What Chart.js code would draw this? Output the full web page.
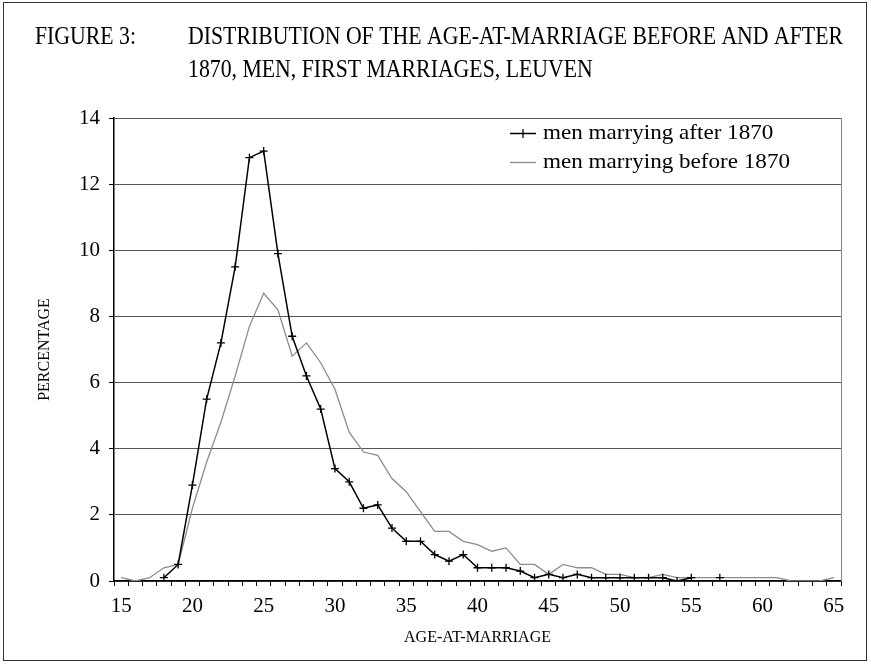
<!DOCTYPE html>
<html>
<head>
<meta charset="utf-8">
<script src="https://cdn.jsdelivr.net/npm/chart.js@4.4.0/dist/chart.umd.min.js"></script>
<style>
  body { margin: 0; background: #fff; }
  canvas { display: block; }
</style>
</head>
<body>
<canvas id="myChart" width="871" height="667"></canvas>
<script>
// data (percentages by age at first marriage)
const ages = ["15","16","17","18","19","20","21","22","23","24","25","26","27","28","29","30",
  "31","32","33","34","35","36","37","38","39","40","41","42","43","44","45","46","47","48",
  "49","50","51","52","53","54","55","56","57","58","59","60","61","62","63","64","65"];

const after1870 = [null, null, null, 0.1, 0.5, 2.9, 5.5, 7.2, 9.5, 12.8, 13.0, 9.9, 7.4, 6.2, 5.2, 3.4,
  3.0, 2.2, 2.3, 1.6, 1.2, 1.2, 0.8, 0.6, 0.8, 0.4, 0.4, 0.4, 0.3, 0.1, 0.2, 0.1, 0.2, 0.1,
  0.1, 0.1, 0.1, 0.1, 0.1, 0.0, 0.1, null, 0.1, null, null, null, null, null, null, null, null];

const before1870 = [0.1, 0.0, 0.1, 0.4, 0.5, 2.2, 3.6, 4.8, 6.2, 7.7, 8.7, 8.2, 6.8, 7.2, 6.6, 5.8,
  4.5, 3.9, 3.8, 3.1, 2.7, 2.1, 1.5, 1.5, 1.2, 1.1, 0.9, 1.0, 0.5, 0.5, 0.2, 0.5, 0.4, 0.4,
  0.2, 0.2, 0.1, 0.1, 0.2, 0.1, 0.1, 0.1, 0.1, 0.1, 0.1, 0.1, 0.1, 0.0, 0.0, 0.0, 0.1];

const xTickLabels = ["15", "20", "25", "30", "35", "40", "45", "50", "55", "60", "65"];
const yTicks = [0, 2, 4, 6, 8, 10, 12, 14];

const serif = "'Liberation Serif', 'Times New Roman', serif";
const titleLines = [
  "DISTRIBUTION OF THE AGE-AT-MARRIAGE BEFORE AND AFTER",
  "1870, MEN, FIRST MARRIAGES, LEUVEN",
];

// draws text squeezed/stretched horizontally by sx
const drawScaled = (c, text, x, y, sx) => {
  c.save();
  c.translate(x, y);
  c.scale(sx, 1);
  c.fillText(text, 0, 0);
  c.restore();
};

const extras = {
  id: "extras",
  beforeDraw(chart) {
    const c = chart.ctx;
    c.save();
    c.fillStyle = "#fff";
    c.fillRect(0, 0, chart.width, chart.height);
    c.strokeStyle = "#333";
    c.lineWidth = 1;
    c.strokeRect(3.5, 2.5, 863, 658);
    c.restore();
  },
  afterDraw(chart) {
    const c = chart.ctx;
    const area = chart.chartArea;
    c.save();

    // right edge of plot
    c.strokeStyle = "#888";
    c.lineWidth = 1;
    c.beginPath();
    c.moveTo(Math.round(area.right) + 0.5, area.top);
    c.lineTo(Math.round(area.right) + 0.5, area.bottom);
    c.stroke();

    // title
    c.fillStyle = "#000";
    c.textBaseline = "alphabetic";
    c.font = "26px " + serif;
    const sx = 655 / c.measureText(titleLines[0]).width;
    drawScaled(c, "FIGURE 3:", 35, 44, sx);
    drawScaled(c, titleLines[0], 188, 44, sx);
    drawScaled(c, titleLines[1], 188, 77, sx);

    // legend
    c.font = "21px " + serif;
    const ds = chart.data.datasets;
    const lsx = 247 / c.measureText(ds[1].label).width;
    ds.forEach((d, i) => {
      const y = 133 + i * 29;
      c.strokeStyle = d.borderColor;
      c.lineWidth = d.borderWidth;
      c.beginPath();
      c.moveTo(510, y + 0.5);
      c.lineTo(536, y + 0.5);
      c.stroke();
      if (d.pointRadius > 0) {
        c.lineWidth = d.pointBorderWidth;
        c.beginPath();
        c.moveTo(523, y - 4);
        c.lineTo(523, y + 5);
        c.stroke();
      }
      c.fillStyle = "#000";
      drawScaled(c, d.label, 543, y + 6, lsx);
    });
    c.restore();
  },
};

new Chart(document.getElementById("myChart"), {
  type: "line",
  data: {
    labels: ages,
    datasets: [
      {
        label: "men marrying after 1870",
        data: after1870,
        borderColor: "#000",
        borderWidth: 1.5,
        pointStyle: "cross",
        pointRadius: 4,
        pointBorderColor: "#000",
        pointBorderWidth: 1.3,
        tension: 0,
        spanGaps: false,
      },
      {
        label: "men marrying before 1870",
        data: before1870,
        borderColor: "#8c8c8c",
        borderWidth: 1.3,
        pointRadius: 0,
        tension: 0,
        spanGaps: false,
      },
    ],
  },
  options: {
    responsive: false,
    animation: false,
    layout: { padding: { top: 118, right: 30, left: 0, bottom: 0 } },
    plugins: {
      legend: { display: false },
      tooltip: { enabled: false },
    },
    scales: {
      x: {
        type: "category",
        offset: true,
        afterFit: (s) => { s.height = 86; },
        grid: {
          offset: true,
          drawOnChartArea: false,
          drawTicks: true,
          tickLength: 5,
          tickColor: "#000",
        },
        border: { color: "#000", width: 1.5 },
        ticks: {
          autoSkip: false,
          maxRotation: 0,
          padding: 8,
          color: "#000",
          font: { family: serif, size: 21 },
          callback: function (value) {
            const lab = this.getLabelForValue(value);
            return xTickLabels.includes(lab) ? lab : "";
          },
        },
        title: {
          display: true,
          text: "AGE-AT-MARRIAGE",
          color: "#000",
          font: { family: serif, size: 16 },
          padding: { top: 0, bottom: 20 },
        },
      },
      y: {
        min: 0,
        max: 14,
        afterFit: (s) => { s.width = 114; },
        afterBuildTicks: (s) => { s.ticks = yTicks.map((v) => ({ value: v })); },
        grid: {
          color: "#555",
          lineWidth: 1,
          drawTicks: true,
          tickLength: 5,
          tickColor: "#000",
        },
        border: { color: "#000", width: 1.5 },
        ticks: {
          padding: 9,
          color: "#000",
          font: { family: serif, size: 21 },
        },
        title: {
          display: true,
          text: "PERCENTAGE",
          color: "#000",
          font: { family: serif, size: 16 },
          padding: { top: 35, bottom: 0 },
        },
      },
    },
  },
  plugins: [extras],
});
</script>
</body>
</html>
